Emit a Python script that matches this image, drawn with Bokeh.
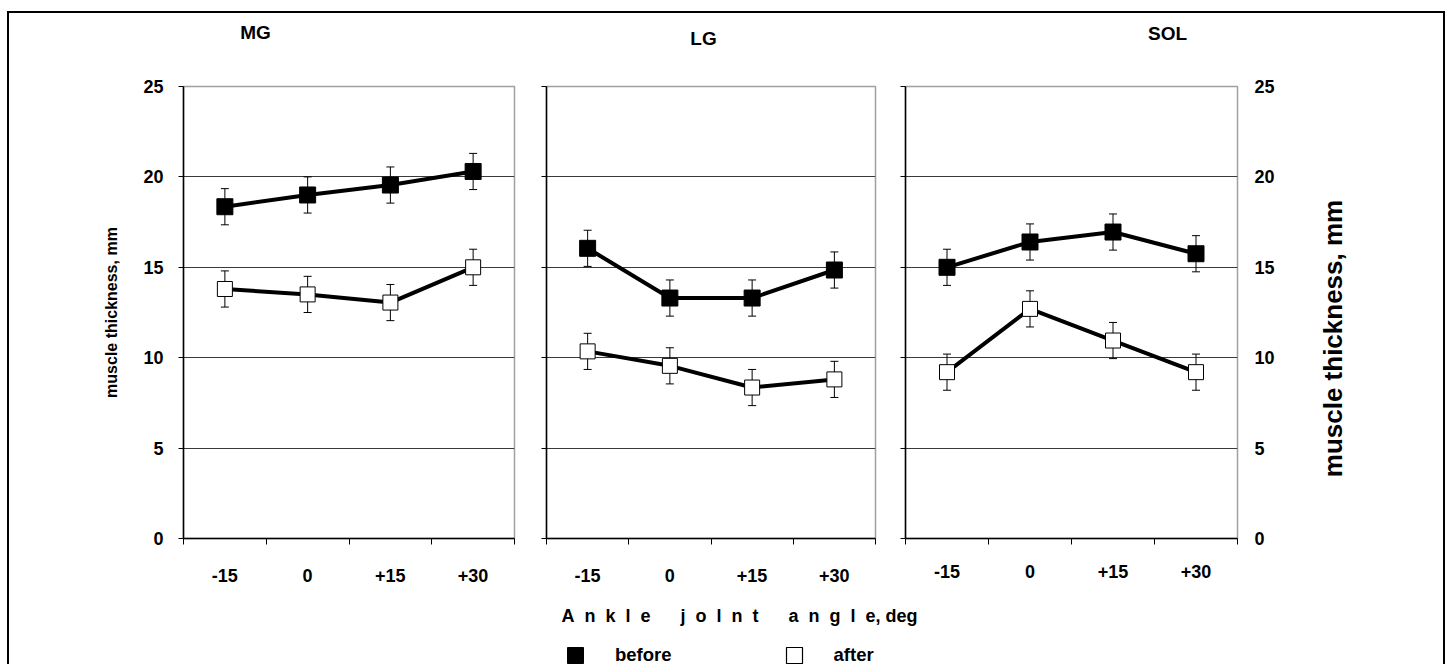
import math
from bokeh.plotting import figure
from bokeh.layouts import row, column
from bokeh.models import (ColumnDataSource, FixedTicker, LinearAxis, Range1d,
                          Whisker, TeeHead, Label, Legend, LegendItem)
from bokeh.embed import file_html
from bokeh.resources import INLINE

# ---------------- data ----------------
angles = ["-15", "0", "+15", "+30"]
muscles = ["MG", "LG", "SOL"]
y_ticks = [0, 5, 10, 15, 20, 25]

mg_before = [18.35, 19.0, 19.55, 20.3]
mg_before_err = [1.0, 1.0, 1.0, 1.0]
mg_after = [13.8, 13.5, 13.05, 15.0]
mg_after_err = [1.0, 1.0, 1.0, 1.0]

lg_before = [16.05, 13.3, 13.3, 14.85]
lg_before_err = [1.0, 1.0, 1.0, 1.0]
lg_after = [10.35, 9.55, 8.35, 8.8]
lg_after_err = [1.0, 1.0, 1.0, 1.0]

sol_before = [15.0, 16.4, 16.95, 15.75]
sol_before_err = [1.0, 1.0, 1.0, 1.0]
sol_after = [9.2, 12.7, 10.95, 9.2]
sol_after_err = [1.0, 1.0, 1.0, 1.0]

y_label = "muscle thickness, mm"
x_label = ("A\u00a0 n\u00a0 k\u00a0 l\u00a0 e\u00a0\u00a0\u00a0\u00a0\u00a0 "
           "j\u00a0 o\u00a0 l\u00a0 n\u00a0 t\u00a0\u00a0\u00a0\u00a0\u00a0 "
           "a\u00a0 n\u00a0 g\u00a0 l\u00a0 e, deg")
legend_labels = ["before", "after"]

FONT = "Liberation Sans"
TOP = 60        # height of the strip holding the panel titles
H = 538         # height of the panel row
NAN = float("nan")


def bold(obj, prefix, size):
    setattr(obj, prefix + "_font", FONT)
    setattr(obj, prefix + "_font_size", size)
    setattr(obj, prefix + "_font_style", "bold")
    setattr(obj, prefix + "_color", "black")


def strip(width, height):
    s = figure(width=width, height=height, x_range=Range1d(0, 1), y_range=Range1d(0, 1),
               output_backend="svg", toolbar_location=None,
               x_axis_location=None, y_axis_location=None,
               min_border_left=0, min_border_right=0, min_border_top=0, min_border_bottom=0)
    s.outline_line_color = None
    s.background_fill_color = "white"
    s.border_fill_color = "white"
    s.grid.visible = False
    return s


def make_panel(before, before_err, after, after_err, width, borders, x_standoff):
    n = len(angles)
    p = figure(width=width, height=H, x_range=Range1d(0, n), y_range=Range1d(0, 25),
               output_backend="svg", toolbar_location=None,
               min_border_left=borders[0], min_border_right=borders[1],
               min_border_top=borders[2], min_border_bottom=borders[3])
    p.background_fill_color = "white"
    p.border_fill_color = "white"
    p.outline_line_color = "#a0a0a0"
    p.outline_line_width = 1.5

    xs = [i + 0.5 for i in range(n)]
    xa = p.xaxis[0]
    xa.ticker = FixedTicker(ticks=xs, minor_ticks=list(range(n + 1)))
    xa.major_label_overrides = {x: a for x, a in zip(xs, angles)}
    xa.major_tick_out = 0
    xa.major_tick_in = 0
    xa.minor_tick_out = 6
    xa.minor_tick_in = 0
    xa.minor_tick_line_color = "black"
    xa.axis_line_color = "black"
    xa.axis_line_width = 1.5
    bold(xa, "major_label_text", "18px")
    xa.major_label_standoff = x_standoff

    ya = p.yaxis[0]
    ya.ticker = FixedTicker(ticks=y_ticks)
    ya.minor_tick_line_color = None
    ya.major_tick_out = 5
    ya.major_tick_in = 0
    ya.major_tick_line_color = "black"
    ya.axis_line_color = "black"
    ya.axis_line_width = 1.5

    p.xgrid.visible = False
    p.ygrid.ticker = FixedTicker(ticks=y_ticks[1:-1])
    p.ygrid.grid_line_color = "#3a3a3a"
    p.ygrid.grid_line_width = 1

    for vals, errs, fill, sz in ((before, before_err, "black", 16),
                                 (after, after_err, "white", 15)):
        src = ColumnDataSource(dict(x=xs, y=vals,
                                    upper=[v + e for v, e in zip(vals, errs)],
                                    lower=[v - e for v, e in zip(vals, errs)]))
        w = Whisker(source=src, base="x", upper="upper", lower="lower",
                    line_color="black", line_width=1, level="underlay",
                    upper_head=TeeHead(size=8, line_color="black", line_width=1),
                    lower_head=TeeHead(size=8, line_color="black", line_width=1))
        p.add_layout(w)
        p.line("x", "y", source=src, line_color="black", line_width=4)
        p.scatter("x", "y", source=src, marker="square", size=sz,
                  fill_color=fill, line_color="black", line_width=1)
    return p


# page x: p1 0-530, p2 530-890, p3 890-1300, p5 1300-1448
# frames 183-514, 546-875, 905-1237 ; tops 86/83/82, bottoms 538/538/542
p1 = make_panel(mg_before, mg_before_err, mg_after, mg_after_err,
                530, (183, 16, 86 - TOP, 60), 24)
p2 = make_panel(lg_before, lg_before_err, lg_after, lg_after_err,
                360, (16, 15, 83 - TOP, 60), 24)
p3 = make_panel(sol_before, sol_before_err, sol_after, sol_after_err,
                410, (15, 63, 82 - TOP, 56), 20)

ya1 = p1.yaxis[0]
bold(ya1, "major_label_text", "18px")
ya1.major_label_standoff = 15
ya1.axis_label = y_label
bold(ya1, "axis_label_text", "16px")
ya1.axis_label_standoff = 20

for pp in (p2, p3):
    pp.yaxis[0].major_label_overrides = {t: "" for t in y_ticks}
    pp.yaxis[0].major_label_standoff = 0

# right tick labels on SOL
ra = LinearAxis(ticker=FixedTicker(ticks=y_ticks))
ra.axis_line_color = None
ra.major_tick_line_color = None
ra.minor_tick_line_color = None
ra.major_tick_out = 0
bold(ra, "major_label_text", "18px")
ra.major_label_standoff = 17
p3.add_layout(ra, "right")

# right axis title strip
p5 = strip(148, H)
rt = Label(x=32, y=200, x_units="screen", y_units="screen", text=y_label,
           angle=math.pi / 2, text_align="center", text_baseline="middle")
bold(rt, "text", "26px")
p5.add_layout(rt)

# panel titles strip
p0 = strip(1448, TOP)
for name, cx, cy in zip(muscles, (255, 703, 1167), (32, 38, 33)):
    t = Label(x=cx, y=TOP - cy, x_units="screen", y_units="screen", text=name,
              text_align="center", text_baseline="middle")
    bold(t, "text", "19px")
    p0.add_layout(t)

# bottom strip: x axis title and legend
p4 = strip(1448, 80)
xt = Label(x=561, y=63, x_units="screen", y_units="screen", text=x_label,
           text_align="left", text_baseline="middle")
bold(xt, "text", "18px")
p4.add_layout(xt)

# legend keys (no visible mark of their own)
lb = p4.quad(left=[NAN], right=[NAN], top=[NAN], bottom=[NAN],
             fill_color="black", line_color="black")
la = p4.quad(left=[NAN], right=[NAN], top=[NAN], bottom=[NAN],
             fill_color="white", line_color="black", line_width=1.2)
leg = Legend(items=[LegendItem(label=legend_labels[0], renderers=[lb]),
                    LegendItem(label=legend_labels[1], renderers=[la])],
             orientation="horizontal", location=(565, 12),
             border_line_color=None, background_fill_alpha=0,
             glyph_width=20, glyph_height=20,
             label_standoff=30, spacing=112, padding=0, margin=0)
bold(leg, "label_text", "18.5px")
p4.add_layout(leg)

layout = column(p0, row(p1, p2, p3, p5), p4)

page_template = """
{% block postamble %}
<style>
body::after { content: ""; position: fixed; left: 7px; top: 11px; width: 1434px;
  height: 720px; border: 2px solid black; pointer-events: none; z-index: 10; }
</style>
{% endblock %}
"""

open("out.html", "w").write(file_html(layout, INLINE, template=page_template))
